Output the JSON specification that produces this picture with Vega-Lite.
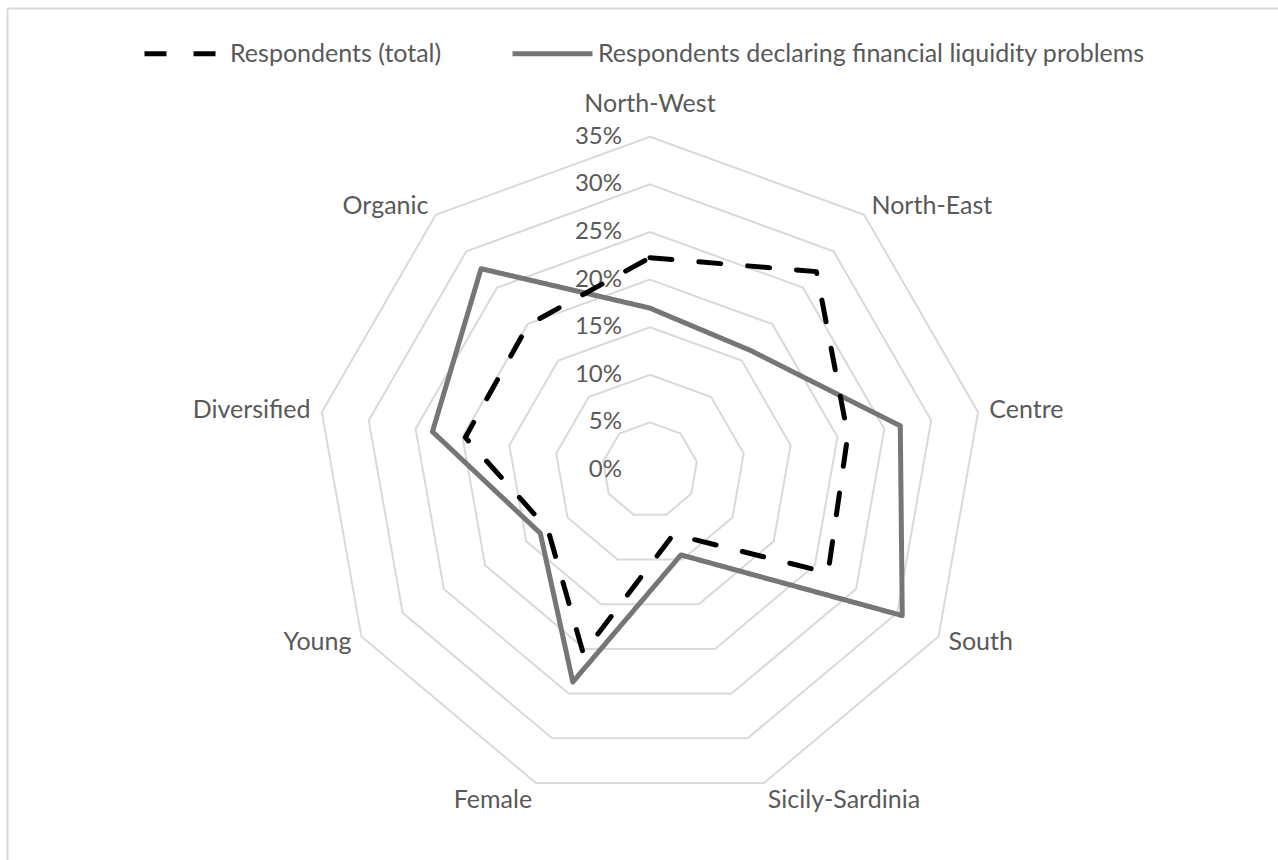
{
  "$schema": "https://vega.github.io/schema/vega-lite/v6.json",
  "autosize": "none",
  "width": 1271,
  "height": 852,
  "padding": {"left": 7, "top": 8, "right": 0, "bottom": 0},
  "background": "white",
  "config": {
    "view": {"stroke": null},
    "font": "Lato",
    "text": {"font": "Lato", "color": "#595959"}
  },
  "datasets": {
    "series": [
      {"series": "Respondents declaring financial liquidity problems", "category": "North-West", "value": 17.0},
      {"series": "Respondents declaring financial liquidity problems", "category": "North-East", "value": 16.4},
      {"series": "Respondents declaring financial liquidity problems", "category": "Centre", "value": 26.7},
      {"series": "Respondents declaring financial liquidity problems", "category": "South", "value": 30.6},
      {"series": "Respondents declaring financial liquidity problems", "category": "Sicily-Sardinia", "value": 9.5},
      {"series": "Respondents declaring financial liquidity problems", "category": "Female", "value": 23.7},
      {"series": "Respondents declaring financial liquidity problems", "category": "Young", "value": 13.3},
      {"series": "Respondents declaring financial liquidity problems", "category": "Diversified", "value": 23.2},
      {"series": "Respondents declaring financial liquidity problems", "category": "Organic", "value": 27.6},
      {"series": "Respondents (total)", "category": "North-West", "value": 22.3},
      {"series": "Respondents (total)", "category": "North-East", "value": 27.2},
      {"series": "Respondents (total)", "category": "Centre", "value": 21.1},
      {"series": "Respondents (total)", "category": "South", "value": 21.6},
      {"series": "Respondents (total)", "category": "Sicily-Sardinia", "value": 7.2},
      {"series": "Respondents (total)", "category": "Female", "value": 20.5},
      {"series": "Respondents (total)", "category": "Young", "value": 12.4},
      {"series": "Respondents (total)", "category": "Diversified", "value": 19.7},
      {"series": "Respondents (total)", "category": "Organic", "value": 19.9}
    ],
    "cats": [
      {"category": "North-West", "levels": [5, 10, 15, 20, 25, 30, 35]},
      {"category": "North-East", "levels": [5, 10, 15, 20, 25, 30, 35]},
      {"category": "Centre", "levels": [5, 10, 15, 20, 25, 30, 35]},
      {"category": "South", "levels": [5, 10, 15, 20, 25, 30, 35]},
      {"category": "Sicily-Sardinia", "levels": [5, 10, 15, 20, 25, 30, 35]},
      {"category": "Female", "levels": [5, 10, 15, 20, 25, 30, 35]},
      {"category": "Young", "levels": [5, 10, 15, 20, 25, 30, 35]},
      {"category": "Diversified", "levels": [5, 10, 15, 20, 25, 30, 35]},
      {"category": "Organic", "levels": [5, 10, 15, 20, 25, 30, 35]}
    ],
    "ticks": [
      {"level": 0}, {"level": 5}, {"level": 10}, {"level": 15},
      {"level": 20}, {"level": 25}, {"level": 30}, {"level": 35}
    ]
  },
  "layer": [
    {
      "data": {"name": "cats"},
      "transform": [
        {"flatten": ["levels"], "as": ["level"]},
        {"calculate": "indexof(['North-West','North-East','Centre','South','Sicily-Sardinia','Female','Young','Diversified','Organic'], datum.category)", "as": "idx"},
        {"calculate": "PI/2 - datum.idx*2*PI/9", "as": "ang"},
        {"calculate": "datum.level*cos(datum.ang)", "as": "px"},
        {"calculate": "datum.level*sin(datum.ang)", "as": "py"}
      ],
      "mark": {"type": "line", "interpolate": "linear-closed", "stroke": "#d9d9d9", "strokeWidth": 2},
      "encoding": {
        "x": {"field": "px", "type": "quantitative", "scale": {"domain": [-67.54, 65.97], "nice": false, "zero": false},
              "axis": {"orient": "top", "labels": false, "ticks": false, "grid": false, "title": null, "domainColor": "#d9d9d9", "domainWidth": 2}},
        "y": {"field": "py", "type": "quantitative", "scale": {"domain": [-40.97, 48.53], "nice": false, "zero": false},
              "axis": {"orient": "left", "labels": false, "ticks": false, "grid": false, "title": null, "domainColor": "#d9d9d9", "domainWidth": 2}},
        "detail": {"field": "level", "type": "nominal"},
        "order": {"field": "idx", "type": "quantitative"}
      }
    },
    {
      "data": {"name": "ticks"},
      "transform": [
        {"calculate": "datum.level + '%'", "as": "label"},
        {"calculate": "0", "as": "px"},
        {"calculate": "datum.level", "as": "py"}
      ],
      "mark": {"type": "text", "align": "right", "baseline": "middle", "dx": -28, "fontSize": 24, "color": "#595959"},
      "encoding": {
        "x": {"field": "px", "type": "quantitative"},
        "y": {"field": "py", "type": "quantitative"},
        "text": {"field": "label", "type": "nominal"}
      }
    },
    {
      "data": {"name": "series"},
      "transform": [
        {"calculate": "indexof(['North-West','North-East','Centre','South','Sicily-Sardinia','Female','Young','Diversified','Organic'], datum.category)", "as": "idx"},
        {"calculate": "PI/2 - datum.idx*2*PI/9", "as": "ang"},
        {"calculate": "datum.value*cos(datum.ang)", "as": "px"},
        {"calculate": "datum.value*sin(datum.ang)", "as": "py"}
      ],
      "mark": {"type": "line", "interpolate": "linear-closed", "strokeWidth": 5, "strokeCap": "round", "strokeJoin": "round"},
      "encoding": {
        "x": {"field": "px", "type": "quantitative"},
        "y": {"field": "py", "type": "quantitative"},
        "order": {"field": "idx", "type": "quantitative"},
        "color": {
          "field": "series", "type": "nominal",
          "scale": {"domain": ["Respondents (total)", "Respondents declaring financial liquidity problems"], "range": ["#000000", "#767676"]},
          "legend": {"orient": "none", "legendX": 135, "legendY": 3, "direction": "horizontal", "title": null,
                     "symbolType": "stroke", "symbolSize": 6400, "symbolStrokeWidth": 5,
                     "labelFont": "Lato", "labelFontSize": 25, "labelColor": "#595959", "labelOffset": 3, "columnPadding": 60,
                     "labelLimit": 800}
        },
        "strokeDash": {
          "field": "series", "type": "nominal",
          "scale": {"domain": ["Respondents (total)", "Respondents declaring financial liquidity problems"], "range": [[22, 27], [1, 0]]},
          "legend": {"orient": "none", "legendX": 135, "legendY": 3, "direction": "horizontal", "title": null,
                     "symbolType": "stroke", "symbolSize": 6400, "symbolStrokeWidth": 5,
                     "labelFont": "Lato", "labelFontSize": 25, "labelColor": "#595959", "labelOffset": 3, "columnPadding": 60,
                     "labelLimit": 800}
        }
      }
    },
    {
      "data": {"name": "cats"},
      "transform": [
        {"calculate": "indexof(['North-West','North-East','Centre','South','Sicily-Sardinia','Female','Young','Diversified','Organic'], datum.category)", "as": "idx"},
        {"calculate": "PI/2 - datum.idx*2*PI/9", "as": "ang"},
        {"calculate": "36.2*cos(datum.ang)", "as": "px"},
        {"calculate": "36.2*sin(datum.ang)", "as": "py"}
      ],
      "layer": [
        {
          "transform": [{"filter": "datum.category == 'North-West'"}],
          "mark": {"type": "text", "align": "center", "baseline": "middle", "dy": -21, "fontSize": 25, "color": "#595959"},
          "encoding": {"x": {"field": "px", "type": "quantitative"}, "y": {"field": "py", "type": "quantitative"}, "text": {"field": "category", "type": "nominal"}}
        },
        {
          "transform": [{"filter": "indexof(['North-East','Centre','South'], datum.category) >= 0"}],
          "mark": {"type": "text", "align": "left", "baseline": "middle", "fontSize": 25, "color": "#595959"},
          "encoding": {"x": {"field": "px", "type": "quantitative"}, "y": {"field": "py", "type": "quantitative"}, "text": {"field": "category", "type": "nominal"}}
        },
        {
          "transform": [{"filter": "datum.category == 'Sicily-Sardinia'"}],
          "mark": {"type": "text", "align": "left", "baseline": "middle", "dy": 6, "fontSize": 25, "color": "#595959"},
          "encoding": {"x": {"field": "px", "type": "quantitative"}, "y": {"field": "py", "type": "quantitative"}, "text": {"field": "category", "type": "nominal"}}
        },
        {
          "transform": [{"filter": "datum.category == 'Female'"}],
          "mark": {"type": "text", "align": "right", "baseline": "middle", "dy": 6, "fontSize": 25, "color": "#595959"},
          "encoding": {"x": {"field": "px", "type": "quantitative"}, "y": {"field": "py", "type": "quantitative"}, "text": {"field": "category", "type": "nominal"}}
        },
        {
          "transform": [{"filter": "indexof(['Young','Diversified','Organic'], datum.category) >= 0"}],
          "mark": {"type": "text", "align": "right", "baseline": "middle", "fontSize": 25, "color": "#595959"},
          "encoding": {"x": {"field": "px", "type": "quantitative"}, "y": {"field": "py", "type": "quantitative"}, "text": {"field": "category", "type": "nominal"}}
        }
      ]
    }
  ]
}
